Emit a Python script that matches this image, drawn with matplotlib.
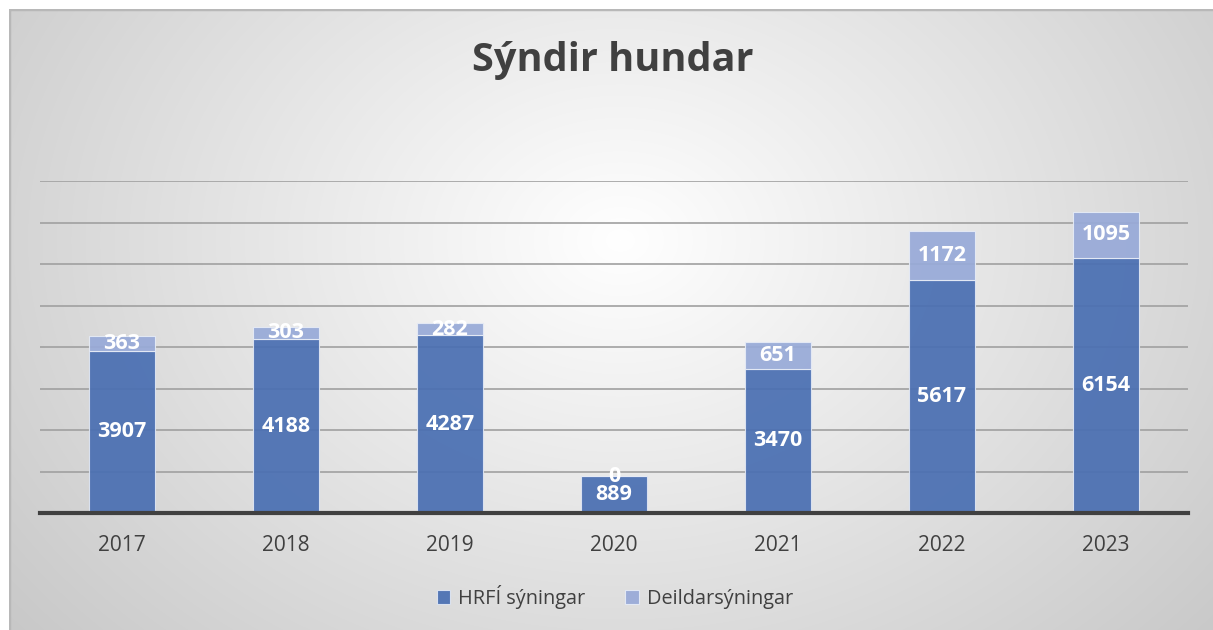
import numpy as np
import matplotlib
matplotlib.use('Agg')
import matplotlib.pyplot as plt

# Gögn
ar = ['2017', '2018', '2019', '2020', '2021', '2022', '2023']
hrfi = [3907, 4188, 4287, 889, 3470, 5617, 6154]
deild = [363, 303, 282, 0, 651, 1172, 1095]

plt.rcParams['font.family'] = ['Open Sans', 'DejaVu Sans']

W, H = 1213, 630
fig = plt.figure(figsize=(W / 100, H / 100), dpi=100)
fig.patch.set_facecolor('white')

# Bakgrunnur með geislalægum litaskala
bx0, by0 = 9, 9
bg = fig.add_axes([bx0 / W, 0, 1 - bx0 / W, (H - by0) / H], zorder=0)
xs = np.arange(bx0, W)
ys = np.arange(by0, H)
X, Y = np.meshgrid(xs, ys)
d = np.sqrt(((X - 620) / 700) ** 2 + ((Y - 240) / 540) ** 2)
g = 1 - 0.19 * d
g = np.clip(g, 0, 1)
bg.imshow(np.dstack([g, g, g]), aspect='auto', interpolation='bilinear')
bg.set_xlim(-0.5, W - bx0 - 0.5)
bg.set_ylim(H - by0 - 0.5, -0.5)
bg.set_axis_off()
bg.add_patch(plt.Rectangle((-0.5, -0.5), W, H, fill=False,
                           edgecolor='#b8b8b8', linewidth=2.5))

# Aðalmynd
ax = fig.add_axes([40 / W, (H - 513) / H, (1188 - 40) / W, (513 - 181) / H], zorder=1)
ax.patch.set_alpha(0)
x = np.arange(len(ar))
b1 = ax.bar(x, hrfi, width=0.4, color='#4a6fb2', alpha=0.93,
            edgecolor='#dfe6f3', linewidth=0.8, label='HRFÍ sýningar', zorder=2)
b2 = ax.bar(x, deild, width=0.4, bottom=hrfi, color='#98aad8', alpha=0.93,
            edgecolor='#e6ebf6', linewidth=0.8, label='Deildarsýningar', zorder=2)
ax.bar_label(b1, label_type='center', color='white', fontsize=15.5, fontweight='bold')
ax.bar_label(b2, label_type='center', color='white', fontsize=15.5, fontweight='bold')

ax.set_xlim(-0.5, 6.5)
ax.set_ylim(0, 8000)
ax.set_yticks(range(0, 8001, 1000))
ax.set_yticklabels([])
ax.tick_params(axis='y', length=0)
ax.grid(axis='y', color='#a0a0a0', linewidth=1.2, zorder=1)
ax.set_axisbelow(True)
ax.set_xticks(x)
ax.set_xticklabels(ar, fontsize=15, color='#404040')
ax.tick_params(axis='x', length=0, pad=16)
for s in ['top', 'right', 'left']:
    ax.spines[s].set_visible(False)
ax.spines['bottom'].set_color('#404040')
ax.spines['bottom'].set_linewidth(3)
ax.spines['bottom'].set_zorder(3)

fig.text(613 / W, 1 - 60 / H, 'Sýndir hundar', ha='center', va='center',
         fontsize=28.5, fontweight='bold', color='#404040')

fig.legend(handles=[b1, b2], loc='center', bbox_to_anchor=(615 / W, 1 - 597 / H),
           ncol=2, frameon=False, fontsize=14.3, labelcolor='#404040',
           handlelength=0.7, handleheight=0.7, columnspacing=2.0, handletextpad=0.4)

plt.savefig('out.png', dpi=100)
